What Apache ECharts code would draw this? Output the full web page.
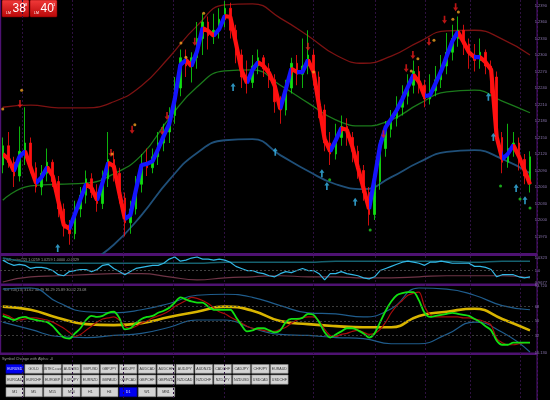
<!DOCTYPE html>
<html>
<head>
<meta charset="utf-8">
<script src="https://cdn.jsdelivr.net/npm/echarts@6/dist/echarts.min.js"></script>
<style>
  html, body { margin: 0; padding: 0; background: #000; }
  #chart { width: 550px; height: 400px; }
</style>
</head>
<body>
<div id="chart"></div>
<script>
// prices are kept in points: 12115 -> 1.2115
const barCount = 96
const candles = [
  [12100,12135,12085,12150],[12135,12105,12095,12160],[12105,12080,12060,12115],[12080,12125,12070,12170],
  [12125,12140,12100,12205],[12140,12095,12085,12150],[12095,12060,12050,12105],[12060,12085,12045,12100],
  [12085,12105,12070,12130],[12105,12070,12060,12110],[12070,12020,12005,12080],[12020,11985,11970,12030],
  [11985,11975,11955,12000],[11975,12020,11965,12035],[12020,12045,12005,12060],[12045,12075,12030,12090],
  [12075,12050,12040,12085],[12050,12030,12015,12065],[12030,12075,12020,12090],[12075,12110,12060,12160],
  [12110,12085,12070,12125],[12085,12040,12030,12095],[12040,11995,11970,12050],[11995,12020,11975,12035],
  [12020,12065,12010,12080],[12065,12100,12050,12120],[12100,12095,12080,12130],[12095,12115,12085,12130],
  [12115,12140,12100,12160],[12140,12160,12125,12175],[12160,12190,12140,12205],[12190,12240,12175,12260],
  [12240,12295,12225,12310],[12295,12280,12260,12310],[12280,12295,12250,12305],[12295,12330,12275,12360],
  [12330,12360,12300,12375],[12360,12335,12310,12370],[12335,12345,12320,12375],[12345,12365,12330,12385],
  [12365,12385,12350,12398],[12385,12345,12330,12395],[12345,12300,12285,12355],[12300,12260,12240,12310],
  [12260,12250,12230,12290],[12250,12280,12240,12300],[12280,12295,12265,12310],[12295,12275,12260,12300],
  [12275,12255,12240,12285],[12255,12215,12195,12265],[12215,12200,12175,12225],[12200,12240,12190,12255],
  [12240,12285,12230,12295],[12285,12265,12245,12300],[12265,12280,12240,12330],[12280,12300,12265,12345],
  [12300,12260,12245,12310],[12260,12200,12185,12270],[12200,12140,12125,12210],[12140,12120,12100,12160],
  [12120,12150,12110,12175],[12150,12170,12135,12190],[12170,12150,12135,12185],[12150,12125,12105,12160],
  [12125,12090,12075,12135],[12090,12050,12035,12100],[12050,12010,11990,12060],[12010,12070,12000,12085],
  [12070,12130,12055,12145],[12130,12165,12115,12180],[12165,12185,12150,12200],[12185,12205,12170,12225],
  [12205,12225,12190,12245],[12225,12245,12210,12265],[12245,12270,12230,12290],[12270,12245,12230,12280],
  [12245,12220,12205,12255],[12220,12235,12210,12265],[12235,12255,12225,12280],[12255,12280,12240,12300],
  [12280,12305,12265,12340],[12305,12330,12290,12355],[12330,12345,12315,12370],[12345,12320,12300,12355],
  [12320,12300,12275,12330],[12300,12290,12270,12320],[12290,12305,12275,12330],[12305,12280,12265,12310],
  [12280,12260,12230,12290],[12260,12150,12140,12270],[12150,12105,12085,12160],[12105,12130,12095,12175],
  [12130,12140,12115,12160],[12140,12110,12090,12150],[12110,12080,12065,12120],[12065,12115,12050,12125]
]
// thick trend line (blue rising / red falling)
const trendLine = [
  12120,12111,12089,12115,12125,12096,12067,12078,12096,12080,12035,11991,11984,12011,12038,12065,
  12058,12036,12069,12104,12098,12049,12002,12009,12055,12100,12102,12107,12129,12153,12175,12220,
  12282,12291,12280,12307,12349,12344,12335,12347,12371,12369,12322,12273,12249,12273,12287,12280,
  12267,12244,12202,12238,12275,12269,12269,12291,12269,12207,12147,12125,12145,12167,12164,12133,
  12095,12058,12020,12076,12136,12169,12184,12200,12220,12242,12264,12251,12225,12227,12249,12271,
  12298,12325,12342,12324,12305,12296,12296,12287,12273,12151,12111,12120,12136,12116,12091,12065
]
// bands sampled every 5 bars
const bandIdx = [0,5,10,15,20,25,30,35,40,45,50,55,60,65,70,75,80,85,90,95]
const bandUpper = [12205,12209,12204,12204,12215,12244,12296,12353,12391,12393,12367,12335,12300,12285,12298,12324,12344,12345,12329,12300]
const bandMid = [12036,12062,12065,12067,12084,12118,12185,12242,12271,12273,12245,12213,12182,12171,12182,12211,12233,12236,12216,12195]
const bandLower = [11855,11864,11882,11918,11955,12009,12073,12122,12145,12147,12118,12089,12065,12056,12078,12105,12124,12127,12111,12085]
// signals [bar, price]
const sellArrows = [[3.1,12211],[19.5,12122],[23.3,12164],[28.7,12162],[29.6,12189],[34.6,12324],[55,12315],
  [68.6,12156],[72.7,12276],[73.9,12300],[76.8,12324],[79.6,12364],[81.6,12387]]
const orangeDots = [[0,12202],[3.4,12236],[19.7,12120],[23.8,12173],[32.1,12322],[33,12296],[36.2,12376],
  [56,12269],[73.6,12271],[74.8,12293],[77.7,12327],[81.1,12365],[82.1,12378]]
const buyArrows = [[9.9,11949],[41.5,12242],[49.1,12124],[57.5,12085],[58.4,12062],[63.5,12033],
  [87.5,12224],[88.4,12151],[92.5,12058],[94.1,12036]]
const greenDots = [[58.9,12073],[66.2,11982],[89.7,12062],[93.2,12038],[95,12022]]

// middle panel (x10000)
const cycleLine = [
  10270,10189,10135,10162,10135,10054,10081,10081,10054,10000,9892,9865,9973,10000,10027,10027,
  9973,10027,10135,10162,10054,9973,9892,9973,10054,10081,10108,10135,10135,10189,10297,10351,
  10243,10270,10324,10351,10297,10297,10270,10297,10270,10216,10108,10054,10000,10000,9946,9919,
  9865,9838,9919,9973,9946,10000,10054,10000,10000,9919,9757,9919,9919,9973,9919,9892,
  9865,9811,9784,9838,10000,10054,10108,10162,10216,10243,10216,10189,10135,10216,10216,10243,
  10216,10189,10189,10189,10189,10108,10108,10081,10027,9838,9892,9892,9892,9838,9811,9838
]
const cycleUpper = [10324,10216,10189,10189,10189,10189,10189,10189,10216,10216,10216,10216,10243,10243,10243,10243,10243,10216,10243,10243]
const cycleLower = [9703,9838,9865,9892,9919,9919,9838,9757,9811,9838,9865,9838,9838,9811,9811,9838,9865,9865,9865,9811]

// TDI panel
const tdiGreen = [
  56.4,53.9,51.3,53.9,55.1,52.6,51.3,50.0,48.7,43.6,35.9,29.4,28.1,34.6,41.0,51.3,
  56.4,55.1,56.4,60.3,61.6,53.9,39.7,41.0,47.4,52.6,55.1,56.4,60.3,62.9,66.7,73.1,
  79.6,77.0,74.4,73.1,73.1,68.0,64.1,64.1,64.1,64.1,55.1,44.9,37.1,38.4,41.0,41.0,
  38.4,35.9,38.4,48.7,52.6,52.6,53.9,59.0,57.7,48.7,35.9,29.4,33.3,37.1,41.0,41.0,
  38.4,34.6,29.4,34.6,48.7,62.9,74.4,82.2,84.7,86.0,86.0,75.7,60.3,55.1,56.4,57.7,
  59.0,60.3,59.0,57.7,56.4,52.6,48.7,43.6,38.4,25.6,20.4,20.4,23.0,23.0,23.0,23.0
]
const tdiRed = [
  59.0,56.4,52.6,51.3,52.6,53.9,53.9,52.6,51.3,48.7,44.9,41.0,35.9,30.7,33.3,38.4,
  43.6,48.7,52.6,53.9,55.1,51.3,43.6,41.0,43.6,47.4,50.0,53.9,56.4,59.0,62.9,68.0,
  71.9,75.7,79.6,78.3,75.7,71.9,66.7,61.6,59.0,55.1,51.3,47.4,43.6,41.0,39.7,38.4,
  37.1,37.1,39.7,42.3,47.4,51.3,53.9,55.1,55.1,50.0,39.7,32.0,30.7,33.3,34.6,37.1,
  38.4,35.9,33.3,34.6,39.7,48.7,60.3,69.3,75.7,82.2,84.7,86.0,68.0,57.7,55.1,55.1,
  55.1,55.1,55.1,53.9,53.9,52.6,51.3,48.7,44.9,28.1,23.0,20.4,20.4,21.7,23.0,23.0
]
const tdiYellow = [68.0,64.1,53.9,46.1,44.9,47.4,55.1,61.6,68.0,62.9,50.0,46.1,43.6,42.3,42.3,56.4,61.6,65.4,52.6,38.4]
const tdiUpper = [89.9,91.2,73.1,61.6,60.3,64.1,71.9,82.2,83.4,79.6,69.3,60.3,59.0,55.1,65.4,91.2,89.9,82.2,69.3,64.1]
const tdiLower = [48.7,39.7,30.7,29.4,32.0,34.6,42.3,51.3,51.3,41.0,33.3,32.0,29.4,28.1,21.7,21.7,33.3,48.7,35.9,11.4]
const tdiLevels = [32, 50, 68]

const separatorBars = [4, 13, 22, 31, 40, 56, 67, 76, 84, 93]
const symbolsRow1 = ['EURUSD','GOLD','USTEC.cash','AUDUSD','GBPUSD','GBPJPY','USDJPY','AUDCAD','AUDCHF','AUDJPY','AUDNZD','CADCHF','CADJPY','CHFJPY','EURAUD']
const symbolsRow2 = ['EURCAD','EURCHF','EURGBP','EURJPY','EURNZD','GBPAUD','GBPCAD','GBPCHF','GBPNZD','NZDCAD','NZDCHF','NZDJPY','NZDUSD','USDCAD','USDCHF']
const timeframes = ['M1','M5','M15','M30','H1','H4','D1','W1','MN1']

const chart = echarts.init(document.getElementById('chart'))
const font = 'Liberation Sans'
const purple = '#4e1272'
const idx = trendLine.map((v, i) => String(i))
const pairs = (arr) => arr.map((v, i) => [i, v])
const sampled = (arr) => bandIdx.map((x, k) => [x, arr[k]])
const lastClose = candles[candles.length - 1][1]

// blue on rising segments, red on falling segments
const trendPieces = []
for (let i = 1; i < trendLine.length; i++) {
  trendPieces.push({ gte: i - 1, lt: i, color: trendLine[i] >= trendLine[i - 1] ? '#1414ff' : '#ff1010' })
}
trendPieces.push({ gte: trendLine.length - 1, lte: trendLine.length, color: '#ff1010' })

const upArrow = 'path://M3,0 L6,4 L4,4 L4,9 L2,9 L2,4 L0,4 Z'
const downArrow = 'path://M2,0 L4,0 L4,5 L6,5 L3,9 L0,5 L2,5 Z'
const valueX = (gridIndex) => ({ type: 'value', gridIndex, min: -0.5, max: barCount - 0.5, show: false })

// buttons at the bottom
const buttons = []
function addButtons(list, top, h, selected) {
  list.forEach((name, k) => {
    const on = name === selected
    buttons.push({
      type: 'rect', x: 6 + k * 18.9, y: top, shape: { width: 17.5, height: h },
      style: { fill: on ? '#0000f0' : '#d4d4d4', stroke: on ? '#0000a0' : '#8a8a8a', lineWidth: 0.6 }
    })
    buttons.push({
      type: 'text', x: 6 + k * 18.9 + 8.75, y: top + h / 2,
      style: { text: name, fontSize: 3.6, fontFamily: font, fill: on ? '#e0e0ff' : '#333', align: 'center', verticalAlign: 'middle' }
    })
  })
}
addButtons(symbolsRow1, 364.5, 8.8, 'EURUSD')
addButtons(symbolsRow2, 375, 9.2, '')
addButtons(timeframes, 387.5, 9.2, 'D1')

// panel frames
const frames = [
  { type: 'rect', x: 0, y: 0, shape: { width: 1.2, height: 354 }, style: { fill: purple } },
  { type: 'rect', x: 0, y: 253, shape: { width: 537, height: 3 }, style: { fill: purple } },
  { type: 'rect', x: 0, y: 283.5, shape: { width: 537, height: 2.5 }, style: { fill: purple } },
  { type: 'rect', x: 0, y: 352.5, shape: { width: 537, height: 2.5 }, style: { fill: purple } },
  { type: 'rect', x: 536.5, y: 0, shape: { width: 1.4, height: 400 }, style: { fill: purple } }
]

const redBox = new echarts.graphic.LinearGradient(0, 0, 0, 1, [
  { offset: 0, color: '#f23a3a' }, { offset: 1, color: '#b80808' }
])

chart.setOption({
  backgroundColor: '#000',
  animation: false,
  grid: [
    { left: 0, right: 13, top: 0, bottom: 0 },
    { left: 0, right: 13, top: -1, height: 254 },
    { left: 0, right: 13, top: 256, height: 27 },
    { left: 0, right: 13, top: 286, height: 67 }
  ],
  xAxis: [
    {
      type: 'category', gridIndex: 0, data: idx,
      axisLine: { show: false }, axisTick: { show: false }, axisLabel: { show: false },
      splitLine: { show: true, interval: (i) => separatorBars.includes(i), lineStyle: { color: '#2e1040', type: [2, 2], width: 1 } }
    },
    { type: 'category', gridIndex: 1, data: idx, show: false },
    valueX(1),
    valueX(2),
    valueX(3)
  ],
  yAxis: [
    { type: 'value', gridIndex: 0, show: false },
    {
      type: 'value', gridIndex: 1, position: 'right', min: 11940, max: 12400, interval: 30,
      axisLine: { show: false }, axisTick: { show: false }, splitLine: { show: false },
      axisLabel: { fontSize: 4, fontFamily: font, color: '#8c78b0', margin: 2, showMinLabel: false, showMaxLabel: false,
        formatter: (v) => (v / 10000).toFixed(4) }
    },
    {
      type: 'value', gridIndex: 2, position: 'right', min: 9677, max: 10377,
      axisLine: { show: false }, axisTick: { show: false }, splitLine: { show: false },
      axisLabel: { fontSize: 4, fontFamily: font, color: '#8c78b0', margin: 2, customValues: [9677, 10000, 10323],
        formatter: (v) => v === 10000 ? '1.0' : (v / 10000).toFixed(4) }
    },
    {
      type: 'value', gridIndex: 3, position: 'right', min: 10.13, max: 93.72,
      axisLine: { show: false }, axisTick: { show: false }, splitLine: { show: false },
      axisLabel: { fontSize: 4, fontFamily: font, color: '#8c78b0', margin: 2, customValues: [10.13, 32, 50, 68, 93.72],
        formatter: (v) => tdiLevels.includes(v) ? String(v) : v.toFixed(3) }
    }
  ],
  visualMap: [{ type: 'piecewise', show: false, dimension: 0, seriesIndex: 4, pieces: trendPieces }],
  series: [
    { type: 'line', xAxisIndex: 2, yAxisIndex: 1, data: sampled(bandUpper), smooth: true, showSymbol: false, lineStyle: { color: '#7c1212', width: 1.3 }, z: 1 },
    { type: 'line', xAxisIndex: 2, yAxisIndex: 1, data: sampled(bandMid), smooth: true, showSymbol: false, lineStyle: { color: '#1b7a1b', width: 1.3 }, z: 1 },
    { type: 'line', xAxisIndex: 2, yAxisIndex: 1, data: sampled(bandLower), smooth: true, showSymbol: false, lineStyle: { color: '#1f4f78', width: 1.8 }, z: 1 },
    {
      type: 'candlestick', xAxisIndex: 1, yAxisIndex: 1, data: candles, barWidth: 2, z: 2,
      itemStyle: { color: '#10e010', color0: '#ff1010', borderColor: '#10e010', borderColor0: '#ff1010', borderWidth: 0.8 },
      markLine: {
        silent: true, symbol: 'none', data: [{ yAxis: lastClose }], lineStyle: { opacity: 0 },
        label: { position: 'end', formatter: (lastClose / 10000).toFixed(4), fontSize: 4, fontFamily: font, color: '#fff',
          backgroundColor: '#a354c8', padding: [1, 1], distance: 2 }
      }
    },
    { type: 'line', xAxisIndex: 2, yAxisIndex: 1, data: pairs(trendLine), showSymbol: false, lineStyle: { width: 4.2 }, z: 3 },
    { type: 'scatter', xAxisIndex: 2, yAxisIndex: 1, data: sellArrows, symbol: downArrow, symbolSize: [5, 8], itemStyle: { color: '#e81a1a' }, z: 4 },
    { type: 'scatter', xAxisIndex: 2, yAxisIndex: 1, data: orangeDots, symbolSize: 3, itemStyle: { color: '#f0a020' }, z: 4 },
    { type: 'scatter', xAxisIndex: 2, yAxisIndex: 1, data: buyArrows, symbol: upArrow, symbolSize: [5, 8], itemStyle: { color: '#38b8ec' }, z: 4 },
    { type: 'scatter', xAxisIndex: 2, yAxisIndex: 1, data: greenDots, symbolSize: 3, itemStyle: { color: '#20d020' }, z: 4 },

    { type: 'line', xAxisIndex: 3, yAxisIndex: 2, data: sampled(cycleUpper), smooth: true, showSymbol: false, lineStyle: { color: '#16606e', width: 1.5 } },
    { type: 'line', xAxisIndex: 3, yAxisIndex: 2, data: sampled(cycleLower), smooth: true, showSymbol: false, lineStyle: { color: '#6e3446', width: 1.2 } },
    {
      type: 'line', xAxisIndex: 3, yAxisIndex: 2, data: pairs(cycleLine), showSymbol: false, lineStyle: { color: '#32b8e6', width: 1.2 },
      markLine: { silent: true, symbol: 'none', label: { show: false }, data: [{ yAxis: 10000 }], lineStyle: { color: '#555', type: [2, 2], width: 0.8 } }
    },

    { type: 'line', xAxisIndex: 4, yAxisIndex: 3, data: sampled(tdiUpper), smooth: true, showSymbol: false, lineStyle: { color: '#1f5c8c', width: 1.2 } },
    { type: 'line', xAxisIndex: 4, yAxisIndex: 3, data: sampled(tdiLower), smooth: true, showSymbol: false, lineStyle: { color: '#1f5c8c', width: 1.2 } },
    {
      type: 'line', xAxisIndex: 4, yAxisIndex: 3, data: sampled(tdiYellow), smooth: true, showSymbol: false, lineStyle: { color: '#d8b400', width: 2.6 },
      markLine: { silent: true, symbol: 'none', label: { show: false }, data: tdiLevels.map((v) => ({ yAxis: v })), lineStyle: { color: '#4a4a4a', type: [2, 2], width: 0.8 } }
    },
    { type: 'line', xAxisIndex: 4, yAxisIndex: 3, data: pairs(tdiRed), smooth: 0.3, showSymbol: false, lineStyle: { color: '#a80c0c', width: 1.2 } },
    { type: 'line', xAxisIndex: 4, yAxisIndex: 3, data: pairs(tdiGreen), smooth: 0.3, showSymbol: false, lineStyle: { color: '#12e012', width: 1.8 } }
  ],
  graphic: [
    ...frames,
    { type: 'rect', x: 2, y: 0, shape: { width: 27, height: 17, r: 1 }, style: { fill: redBox, stroke: '#7a0000', lineWidth: 0.5 } },
    { type: 'rect', x: 30, y: 0, shape: { width: 27, height: 17, r: 1 }, style: { fill: redBox, stroke: '#7a0000', lineWidth: 0.5 } },
    { type: 'text', x: 6, y: 11.5, style: { text: 'LM', fontSize: 3.5, fontFamily: font, fill: '#fff' } },
    { type: 'text', x: 12.5, y: 3, style: { text: '38', fontSize: 12, fontFamily: 'Liberation Sans Narrow, Liberation Sans', fill: '#fff' } },
    { type: 'text', x: 25, y: 3, style: { text: '8', fontSize: 4, fontFamily: font, fill: '#fff' } },
    { type: 'text', x: 34, y: 11.5, style: { text: 'LM', fontSize: 3.5, fontFamily: font, fill: '#fff' } },
    { type: 'text', x: 40.5, y: 3, style: { text: '40', fontSize: 12, fontFamily: 'Liberation Sans Narrow, Liberation Sans', fill: '#fff' } },
    { type: 'text', x: 53, y: 3, style: { text: '1', fontSize: 4, fontFamily: font, fill: '#fff' } },
    { type: 'text', x: 4, y: 257.5, style: { text: 'DMI_ratio(22) 1.0259 1.0259 1.0000 -0.0329', fontSize: 3.8, fontFamily: font, fill: '#9a9a9a' } },
    { type: 'text', x: 3, y: 287.5, style: { text: 'TDI TDI(13) 31.62 30.79 36.29 25.89 30.82 23.08', fontSize: 3.8, fontFamily: font, fill: '#9a9a9a' } },
    { type: 'text', x: 2, y: 356.5, style: { text: 'Symbol Change with Alpha: -0', fontSize: 3.8, fontFamily: font, fill: '#9a9a9a' } },
    ...buttons
  ]
})
</script>
</body>
</html>
